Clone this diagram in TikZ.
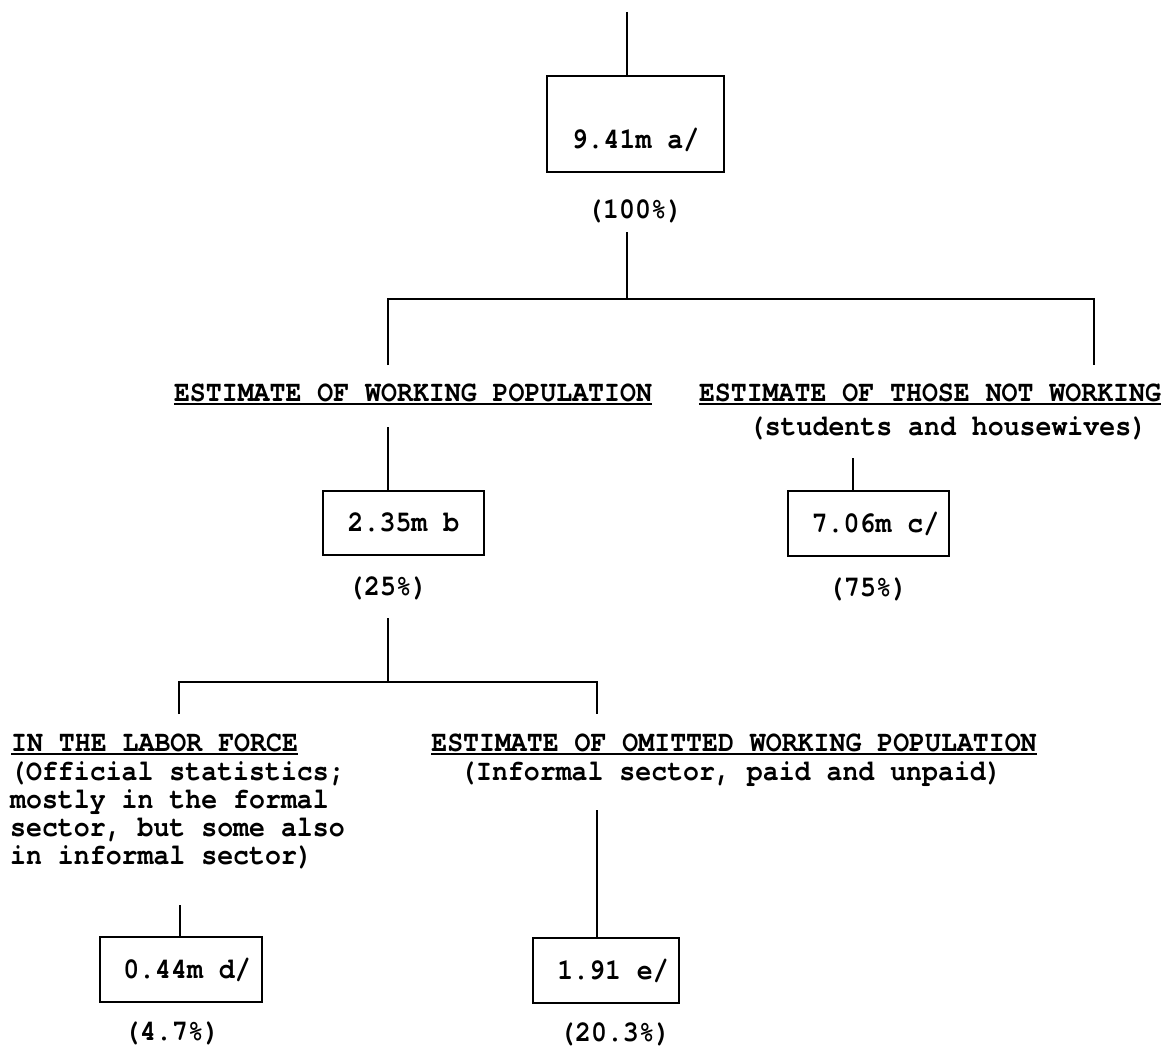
\documentclass[tikz,border=0pt]{standalone}
\usepackage{fontspec}
\newfontfamily\tw[FakeStretch=0.9,Ligatures={NoCommon,NoRequired}]{texgyrecursor-bold.otf}
\begin{document}
\begin{tikzpicture}[x=1pt,y=-1pt,
  every node/.style={font=\tw\fontsize{29.5}{30}\selectfont, inner sep=0pt},
  conn/.style={line width=2pt},
  box/.style={draw, line width=2.2pt, inner sep=0pt, text height=17pt, text depth=0pt},
  ulline/.style={line width=1.8pt}]
\useasboundingbox (0,0) rectangle (1169,1046);

% boxes
\node[box, minimum width=177pt, minimum height=96pt, text height=49pt] (b1) at (635.5,124) {9.41m a/};
\node[box, minimum width=161pt, minimum height=64pt] (b2) at (403.5,523) {2.35m b};
\node[box, minimum width=161pt, minimum height=65pt] (b3) at (868.5,523.5) {\hspace*{14pt}7.06m c/};
\node[box, minimum width=162pt, minimum height=65pt] (b4) at (181,969.5) {\hspace*{12pt}0.44m d/};
\node[box, minimum width=146pt, minimum height=65pt] (b5) at (606,970.5) {\hspace*{14pt}1.91 e/};

% percentages
\node[anchor=base] (p1) at (635,218) {(100\%)};
\node[anchor=base] (p2) at (388,595) {(25\%)};
\node[anchor=base] (p3) at (868,596) {(75\%)};
\node[anchor=base] (p4) at (172,1040) {(4.7\%)};
\node[anchor=base] (p5) at (615,1041) {(20.3\%)};

% headings
\node[anchor=base] (h1) at (413,401) {ESTIMATE OF WORKING POPULATION};
\node[anchor=base] (h2) at (930,401) {ESTIMATE OF THOSE NOT WORKING};
\node[anchor=base] (s2) at (948,435) {(students and housewives)};
\node[anchor=base west] (h3) at (11,751) {IN THE LABOR FORCE};
\node[anchor=base west] (s3a) at (10,780) {(Of{}f{}icial statistics;};
\node[anchor=base west] (s3b) at (10,808) {mostly in the formal};
\node[anchor=base west] (s3c) at (10,836) {sector, but some also};
\node[anchor=base west] (s3d) at (10,864) {in informal sector)};
\node[anchor=base] (h4) at (734,751) {ESTIMATE OF OMITTED WORKING POPULATION};
\node[anchor=base] (s4) at (731,780) {(Informal sector, paid and unpaid)};

% underlines
\foreach \n in {h1,h2,h3,h4}
  \draw[ulline] ([yshift=-3pt]\n.base west) -- ([yshift=-3pt]\n.base east);

% connectors
\coordinate (t0) at (627,12);
\draw[conn] (t0) -- (t0 |- b1.north);
\coordinate (j1) at (627,232);
\coordinate (k1) at (627,299);
\draw[conn] (j1) -- (k1);
\coordinate (L1) at (388,299);
\coordinate (R1) at (1094,299);
\coordinate (L1e) at (388,365);
\coordinate (R1e) at (1094,365);
\draw[conn] (L1e) -- (L1) -- (R1) -- (R1e);

\coordinate (L2) at (388,427);
\draw[conn] (L2) -- (L2 |- b2.north);
\coordinate (R2) at (853,458);
\draw[conn] (R2) -- (R2 |- b3.north);

\coordinate (j2) at (388,618);
\coordinate (k2) at (388,682);
\draw[conn] (j2) -- (k2);
\coordinate (L3) at (179,682);
\coordinate (R3) at (597,682);
\coordinate (L3e) at (179,714);
\coordinate (R3e) at (597,714);
\draw[conn] (L3e) -- (L3) -- (R3) -- (R3e);

\coordinate (L4) at (180,905);
\draw[conn] (L4) -- (L4 |- b4.north);
\coordinate (R4) at (597,810);
\draw[conn] (R4) -- (R4 |- b5.north);
\end{tikzpicture}
\end{document}
